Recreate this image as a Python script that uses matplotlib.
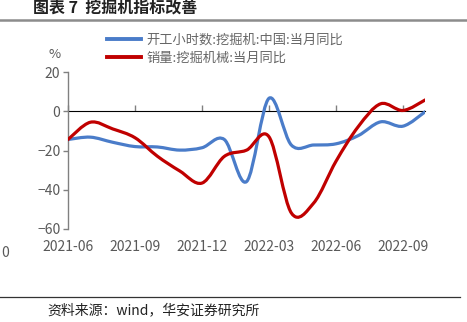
import matplotlib
matplotlib.use("Agg")
import matplotlib.pyplot as plt
from matplotlib.path import Path
from matplotlib.patches import PathPatch
from matplotlib.lines import Line2D

plt.rcParams['font.family'] = ['Noto Sans CJK SC', 'DejaVu Sans']
plt.rcParams['axes.unicode_minus'] = True

# Monthly YoY, %
months = ['2021-06', '2021-07', '2021-08', '2021-09', '2021-10', '2021-11',
          '2021-12', '2022-01', '2022-02', '2022-03', '2022-04', '2022-05',
          '2022-06', '2022-07', '2022-08', '2022-09', '2022-10']
hours = [-14.4, -13.2, -15.8, -18.0, -18.2, -19.8, -18.6, -14.4, -35.8,
         6.6, -17.2, -17.2, -16.6, -12.4, -5.4, -7.6, -0.2]
sales = [-14.4, -5.6, -9.0, -13.5, -22.9, -30.4, -36.6, -23.0, -19.8,
         -13.0, -51.8, -46.8, -25.5, -7.8, 3.8, 0.4, 5.8]
hours_label = '开工小时数:挖掘机:中国:当月同比'
sales_label = '销量:挖掘机械:当月同比'
tick_months = ['2021-06', '2021-09', '2021-12', '2022-03', '2022-06', '2022-09']

BLUE = '#4A7CC9'
RED = '#C00000'
GRAY = '#595959'


def smooth_path(xs, ys):
    # excel-style smoothed line: cubic bezier through every point
    n = len(xs)
    verts = [(xs[0], ys[0])]
    codes = [Path.MOVETO]
    for i in range(n - 1):
        xp, yp = xs[max(i - 1, 0)], ys[max(i - 1, 0)]
        xn, yn = xs[min(i + 2, n - 1)], ys[min(i + 2, n - 1)]
        c1 = (xs[i] + (xs[i + 1] - xp) / 6, ys[i] + (ys[i + 1] - yp) / 6)
        c2 = (xs[i + 1] - (xn - xs[i]) / 6, ys[i + 1] - (yn - ys[i]) / 6)
        verts += [c1, c2, (xs[i + 1], ys[i + 1])]
        codes += [Path.CURVE4] * 3
    return Path(verts, codes)


x = list(range(len(months)))

fig = plt.figure(figsize=(4.67, 3.22), dpi=100)
ax = fig.add_axes([68 / 467, 1 - 229 / 322, (425.3 - 68) / 467, (229 - 72) / 322])

for vals, color in [(hours, BLUE), (sales, RED)]:
    ax.add_patch(PathPatch(smooth_path(x, vals), fill=False, edgecolor=color,
                           lw=2.3, capstyle='round', joinstyle='round', zorder=3))

ax.set_xlim(0, len(months) - 1)
ax.set_ylim(-60, 20)
ax.set_yticks([20, 0, -20, -40, -60])
ticks = [months.index(m) for m in tick_months]
ax.set_xticks(ticks)
ax.set_xticklabels(tick_months)

for side in ['top', 'right', 'bottom']:
    ax.spines[side].set_visible(False)
ax.spines['left'].set_color('#808080')
ax.spines['left'].set_linewidth(1)
ax.tick_params(axis='y', direction='out', length=3.5, width=1, color='#808080',
               labelsize=10, labelcolor=GRAY, pad=2)
ax.tick_params(axis='x', length=0, labelsize=10, labelcolor=GRAY, pad=8)

# zero line with its own downward tick marks
zero = ax.secondary_xaxis(0.75)
zero.set_xticks(ticks)
zero.tick_params(direction='out', length=4, width=1, color='#808080', labelbottom=False,
                 labeltop=False)
zero.spines['bottom'].set_color('#808080')
zero.spines['bottom'].set_linewidth(1.2)

handles = [Line2D([], [], color=BLUE, lw=2.8), Line2D([], [], color=RED, lw=2.8)]
fig.legend(handles, [hours_label, sales_label], loc='upper left',
           bbox_to_anchor=(107 / 467, 1 - 34 / 322), frameon=False, fontsize=9.5,
           labelcolor='#666666', handlelength=2.6, handletextpad=0.4, labelspacing=0.35,
           borderpad=0, borderaxespad=0)

fig.text(55 / 467, 1 - 55 / 322, '%', fontsize=9.5, color=GRAY, ha='center', va='center')
fig.text(5 / 467, 1 - 253 / 322, '0', fontsize=10, color=GRAY, ha='center', va='center')

fig.text(33 / 467, 1 - 8 / 322, '图表 7  挖掘机指标改善', fontsize=11.5, fontweight='bold',
         color='#222222', ha='left', va='center')
fig.add_artist(Line2D([0, 1], [1 - 20 / 322] * 2, color='#8C8C8C', lw=1.8,
                      transform=fig.transFigure))
fig.add_artist(Line2D([0, 460 / 467], [1 - 297 / 322] * 2, color='#333333', lw=0.9,
                      transform=fig.transFigure))
fig.text(47 / 467, 1 - 310 / 322, '资料来源：wind，华安证券研究所', fontsize=10,
         color='#222222', ha='left', va='center')

fig.savefig('out.png', dpi=100)
